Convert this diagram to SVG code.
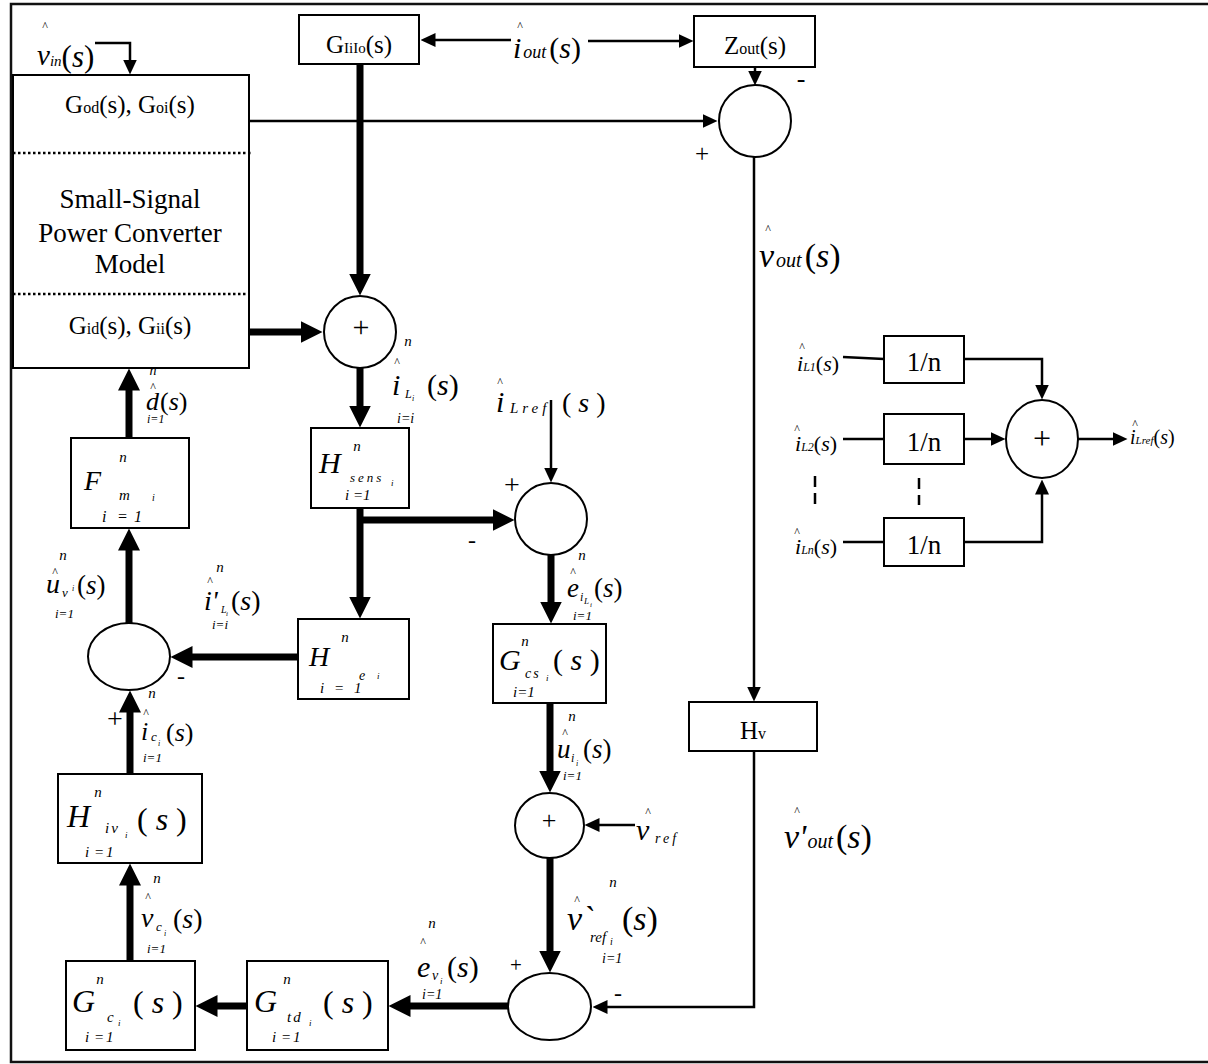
<svg xmlns="http://www.w3.org/2000/svg" width="1208" height="1064" viewBox="0 0 1208 1064">
<defs>
<style>
.box{fill:#fff;stroke:#000;stroke-width:2}
.thin{fill:none;stroke:#000;stroke-width:2.5}
.thick{fill:none;stroke:#000;stroke-width:7}
.dot{fill:none;stroke:#000;stroke-width:2.5;stroke-dasharray:2.5 2.5}
text{font-family:"Liberation Serif","Times New Roman",serif;fill:#000}
.m{font-style:italic}
.u{font-style:normal}
.c{text-anchor:middle}
.hat{font-size:12px;text-anchor:middle}
</style>
<marker id="ah" viewBox="0 0 22 22" refX="0.5" refY="11" markerWidth="22" markerHeight="22" markerUnits="userSpaceOnUse" orient="auto"><path d="M0,0 L22,11 L0,22 Z"/></marker>
<marker id="as" viewBox="0 0 15 14" refX="0.5" refY="7" markerWidth="15" markerHeight="14" markerUnits="userSpaceOnUse" orient="auto"><path d="M0,0 L15,7 L0,14 Z"/></marker>
</defs>
<rect width="1208" height="1064" fill="#fff"/>
<path d="M1210,4 H11 V1062 H1210" fill="none" stroke="#111" stroke-width="2.5"/>

<g id="connectors">
<path class="thick" marker-end="url(#ah)" d="M360,64 V274"/>
<path class="thick" marker-end="url(#ah)" d="M250,332 H301"/>
<path class="thick" marker-end="url(#ah)" d="M360,368 V406"/>
<path class="thick" marker-end="url(#ah)" d="M360,508 V597"/>
<path class="thick" marker-end="url(#ah)" d="M357,520 H493"/>
<path class="thick" marker-end="url(#ah)" d="M298,657 H192"/>
<path class="thick" marker-end="url(#ah)" d="M129,623 V550"/>
<path class="thick" marker-end="url(#ah)" d="M129,438 V390"/>
<path class="thick" marker-end="url(#ah)" d="M551,555 V602"/>
<path class="thick" marker-end="url(#ah)" d="M550,703 V771"/>
<path class="thick" marker-end="url(#ah)" d="M550,858 V951"/>
<path class="thick" marker-end="url(#ah)" d="M508,1006 H410"/>
<path class="thick" marker-end="url(#ah)" d="M247,1006 H217"/>
<path class="thick" marker-end="url(#ah)" d="M130,961 V885"/>
<path class="thick" marker-end="url(#ah)" d="M130,774 V712"/>
<path class="thin" marker-end="url(#as)" d="M95,43 H130 V60"/>
<path class="thin" marker-end="url(#as)" d="M511,40 H435"/>
<path class="thin" marker-end="url(#as)" d="M588,41 H679"/>
<path class="thin" marker-end="url(#as)" d="M755,67 V71"/>
<path class="thin" marker-end="url(#as)" d="M250,121 H703"/>
<path class="thin" marker-end="url(#as)" d="M754,157 V687"/>
<path class="thin" marker-end="url(#as)" d="M754,751 V1007 H607"/>
<path class="thin" marker-end="url(#as)" d="M551,400 V468"/>
<path class="thin" marker-end="url(#as)" d="M635,825 H599"/>
<path class="thin" d="M843,357 L884,359"/>
<path class="thin" d="M843,439 H884"/>
<path class="thin" d="M843,542 H884"/>
<path class="thin" marker-end="url(#as)" d="M964,359 H1042 V385"/>
<path class="thin" marker-end="url(#as)" d="M964,439 H991"/>
<path class="thin" marker-end="url(#as)" d="M964,542 H1042 V494"/>
<path class="thin" marker-end="url(#as)" d="M1078,439 H1113"/>
<path class="thin" stroke-dasharray="11 6" d="M815,476 V505"/>
<path class="thin" stroke-dasharray="11 6" d="M919,478 V505"/>
</g>

<g id="converter">
<rect class="box" x="13" y="75" width="236" height="293"/>
<path class="dot" d="M13,153 H253"/>
<path class="dot" d="M13,294 H248"/>
<text class="c" x="130" y="113" font-size="25">G<tspan font-size="16">od</tspan>(s), G<tspan font-size="16">oi</tspan>(s)</text>
<text class="c" x="130" y="208" font-size="27">Small-Signal</text>
<text class="c" x="130" y="242" font-size="27">Power Converter</text>
<text class="c" x="130" y="273" font-size="27">Model</text>
<text class="c" x="130" y="334" font-size="25">G<tspan font-size="16">id</tspan>(s), G<tspan font-size="16">ii</tspan>(s)</text>
</g>

<g id="giiio">
<rect class="box" x="299" y="15" width="120" height="49"/>
<text class="c" x="359" y="53" font-size="25">G<tspan font-size="15">IiIo</tspan>(s)</text>
</g>

<g id="zout">
<rect class="box" x="694" y="16" width="121" height="51"/>
<text class="c" x="755" y="54" font-size="25">Z<tspan font-size="16">out</tspan>(s)</text>
</g>

<g id="sum1">
<circle class="box" cx="360" cy="332" r="36"/>
<text class="c" x="361" y="337" font-size="30">+</text>
</g>

<g id="sum2">
<circle class="box" cx="755" cy="121" r="36"/>
<text class="c" x="801" y="87" font-size="26">-</text>
<text class="c" x="702" y="162" font-size="25">+</text>
</g>

<g id="hsens">
<rect class="box" x="311" y="428" width="98" height="80"/>
<text class="m c" x="357" y="451" font-size="15">n</text>
<text class="m" x="319" y="473" font-size="30">H</text>
<text class="m" x="350" y="482" font-size="13" letter-spacing="3">sens</text>
<text class="m" x="391" y="486" font-size="9">i</text>
<text class="m" x="345 353 363" y="500" font-size="15">i=1</text>
</g>

<g id="sum3">
<circle class="box" cx="551" cy="519" r="36"/>
<text class="c" x="512" y="494" font-size="28">+</text>
<text class="c" x="472" y="548" font-size="24">-</text>
</g>

<g id="he">
<rect class="box" x="298" y="619" width="111" height="80"/>
<text class="m c" x="345" y="642" font-size="15">n</text>
<text class="m" x="309" y="666" font-size="28">H</text>
<text class="m" x="359" y="680" font-size="14">e</text>
<text class="m" x="377" y="679" font-size="9">i</text>
<text class="m" x="320 334 354" y="693" font-size="15">i=1</text>
</g>

<g id="gcs">
<rect class="box" x="493" y="624" width="113" height="79"/>
<text class="m c" x="525" y="646" font-size="15">n</text>
<text class="m" x="499" y="670" font-size="30">G</text>
<text class="m" x="525" y="678" font-size="14" letter-spacing="2">cs</text>
<text class="m" x="546" y="681" font-size="9">i</text>
<text x="553" y="670" font-size="30">( <tspan class="m">s</tspan> )</text>
<text class="m" x="513" y="697" font-size="15">i=1</text>
</g>

<g id="sum4">
<ellipse class="box" cx="549.5" cy="825.5" rx="34.5" ry="32.5"/>
<text class="c" x="549" y="829" font-size="26">+</text>
</g>

<g id="sum5">
<ellipse class="box" cx="549.5" cy="1006.5" rx="41.5" ry="33.5"/>
<text class="c" x="516" y="972" font-size="21">+</text>
<text class="c" x="618" y="1001" font-size="24">-</text>
</g>

<g id="hv">
<rect class="box" x="689" y="702" width="128" height="49"/>
<text class="c" x="753" y="739" font-size="25">H<tspan font-size="16">v</tspan></text>
</g>

<g id="gtd">
<rect class="box" x="247" y="961" width="141" height="89"/>
<text class="m c" x="287" y="984" font-size="15">n</text>
<text class="m" x="254" y="1012" font-size="32">G</text>
<text class="m" x="287" y="1022" font-size="15" letter-spacing="2">td</text>
<text class="m" x="309" y="1026" font-size="9">i</text>
<text x="323" y="1013" font-size="32">( <tspan class="m">s</tspan> )</text>
<text class="m" x="272 281 293" y="1042" font-size="15">i=1</text>
</g>

<g id="gc">
<rect class="box" x="66" y="961" width="129" height="89"/>
<text class="m c" x="100" y="984" font-size="15">n</text>
<text class="m" x="72" y="1012" font-size="32">G</text>
<text class="m" x="107" y="1022" font-size="15">c</text>
<text class="m" x="118" y="1026" font-size="9">i</text>
<text x="133" y="1013" font-size="32">( <tspan class="m">s</tspan> )</text>
<text class="m" x="85 94 106" y="1042" font-size="15">i=1</text>
</g>

<g id="hiv">
<rect class="box" x="58" y="774" width="144" height="89"/>
<text class="m c" x="98" y="797" font-size="15">n</text>
<text class="m" x="67" y="827" font-size="32">H</text>
<text class="m" x="105" y="833" font-size="15" letter-spacing="2">iv</text>
<text class="m" x="125" y="838" font-size="9">i</text>
<text x="137" y="830" font-size="32">( <tspan class="m">s</tspan> )</text>
<text class="m" x="85 94 106" y="857" font-size="15">i=1</text>
</g>

<g id="sum6">
<ellipse class="box" cx="129" cy="656.5" rx="41" ry="33.5"/>
<text class="c" x="181" y="684" font-size="24">-</text>
<text class="c" x="115" y="728" font-size="28">+</text>
</g>

<g id="fm">
<rect class="box" x="71" y="438" width="118" height="90"/>
<text class="m c" x="123" y="462" font-size="15">n</text>
<text class="m" x="84" y="490" font-size="28">F</text>
<text class="m" x="119" y="500" font-size="15">m</text>
<text class="m" x="152" y="501" font-size="10">i</text>
<text class="m" x="102 117 134" y="522" font-size="16">i=1</text>
</g>

<g id="avg">
<rect class="box" x="884" y="336" width="80" height="47"/>
<text class="c" x="924" y="371" font-size="27">1/n</text>
<rect class="box" x="884" y="414" width="80" height="50"/>
<text class="c" x="924" y="451" font-size="27">1/n</text>
<rect class="box" x="884" y="518" width="80" height="48"/>
<text class="c" x="924" y="554" font-size="27">1/n</text>
<ellipse class="box" cx="1042" cy="439" rx="36" ry="39"/>
<text class="c" x="1042" y="449" font-size="32">+</text>
</g>

<g id="labels">
<!-- vin -->
<text class="hat" x="45" y="30">^</text>
<text class="m" x="37" y="65" font-size="29">v<tspan font-size="15" dy="1">in</tspan><tspan class="u" font-size="31" dy="1">(</tspan><tspan font-size="31">s</tspan><tspan class="u" font-size="31">)</tspan></text>
<!-- iout -->
<text class="hat" x="520" y="30">^</text>
<text class="m" x="513" y="58" font-size="30">i<tspan font-size="18" dx="2">out</tspan><tspan class="u" dx="3">(</tspan>s<tspan class="u">)</tspan></text>
<!-- vout -->
<text class="hat" x="768" y="233">^</text>
<text class="m" x="759" y="267" font-size="34">v<tspan font-size="20" dx="2">out</tspan><tspan class="u" dx="3">(</tspan>s<tspan class="u">)</tspan></text>
<!-- v'out -->
<text class="hat" x="797" y="815">^</text>
<text class="m" x="784" y="848" font-size="34">v'<tspan font-size="20" dx="1">out</tspan><tspan class="u" dx="3">(</tspan>s<tspan class="u">)</tspan></text>
<!-- iL -->
<text class="m c" x="408" y="346" font-size="15">n</text>
<text class="hat" x="397" y="366">^</text>
<text class="m" x="392" y="395" font-size="30">i</text>
<text class="m" x="405" y="398" font-size="12">L</text>
<text class="m" x="412" y="401" font-size="8">i</text>
<text x="427" y="395" font-size="30">(<tspan class="m">s</tspan>)</text>
<text class="m" x="397" y="423" font-size="14">i=i</text>
<!-- iLref -->
<text class="hat" x="500" y="386">^</text>
<text class="m" x="496" y="412" font-size="30">i</text>
<text class="m" x="510" y="413" font-size="15" letter-spacing="4">Lref</text>
<text x="562" y="412" font-size="28">( <tspan class="m">s</tspan> )</text>
<!-- eiL -->
<text class="m c" x="582" y="560" font-size="15">n</text>
<text class="hat" x="573" y="576">^</text>
<text class="m" x="567" y="597" font-size="27">e</text>
<text class="m" x="580" y="601" font-size="12">i</text>
<text class="m" x="584" y="604" font-size="9">L</text>
<text class="m" x="590" y="607" font-size="7">i</text>
<text x="594" y="597" font-size="27">(<tspan class="m">s</tspan>)</text>
<text class="m" x="573" y="620" font-size="13">i=1</text>
<!-- ui -->
<text class="m c" x="572" y="721" font-size="15">n</text>
<text class="hat" x="565" y="737">^</text>
<text class="m" x="557" y="758" font-size="27">u</text>
<text class="m" x="571" y="762" font-size="12">i</text>
<text class="m" x="576" y="766" font-size="8">i</text>
<text x="583" y="758" font-size="27">(<tspan class="m">s</tspan>)</text>
<text class="m" x="563" y="780" font-size="13">i=1</text>
<!-- vref -->
<text class="hat" x="648" y="816">^</text>
<text class="m" x="636" y="840" font-size="30">v</text>
<text class="m" x="655" y="843" font-size="14" letter-spacing="3">ref</text>
<!-- v`ref -->
<text class="m c" x="613" y="887" font-size="15">n</text>
<text class="hat" x="577" y="904">^</text>
<text class="m" x="567" y="930" font-size="34">v`</text>
<text class="m" x="590" y="942" font-size="15">ref</text>
<text class="m" x="610" y="945" font-size="10">i</text>
<text x="622" y="930" font-size="34">(<tspan class="m">s</tspan>)</text>
<text class="m" x="602" y="963" font-size="14">i=1</text>
<!-- ev -->
<text class="m c" x="432" y="928" font-size="15">n</text>
<text class="hat" x="423" y="946">^</text>
<text class="m" x="417" y="977" font-size="30">e</text>
<text class="m" x="432" y="980" font-size="14">v</text>
<text class="m" x="440" y="984" font-size="9">i</text>
<text x="447" y="977" font-size="30">(<tspan class="m">s</tspan>)</text>
<text class="m" x="422" y="999" font-size="14">i=1</text>
<!-- vc -->
<text class="m c" x="157" y="883" font-size="15">n</text>
<text class="hat" x="148" y="901">^</text>
<text class="m" x="141" y="927" font-size="28">v</text>
<text class="m" x="156" y="931" font-size="13">c</text>
<text class="m" x="164" y="936" font-size="8">i</text>
<text x="173" y="928" font-size="28">(<tspan class="m">s</tspan>)</text>
<text class="m" x="147" y="953" font-size="13">i=1</text>
<!-- ic -->
<text class="m c" x="152" y="698" font-size="15">n</text>
<text class="hat" x="146" y="717">^</text>
<text class="m" x="141" y="740" font-size="26">i</text>
<text class="m" x="151" y="741" font-size="13">c</text>
<text class="m" x="158" y="746" font-size="8">i</text>
<text x="166" y="741" font-size="26">(<tspan class="m">s</tspan>)</text>
<text class="m" x="143" y="762" font-size="13">i=1</text>
<!-- i'L -->
<text class="m c" x="220" y="572" font-size="15">n</text>
<text class="hat" x="210" y="585">^</text>
<text class="m" x="204" y="610" font-size="28">i'</text>
<text class="m" x="221" y="613" font-size="10">L</text>
<text class="m" x="226" y="616" font-size="7">i</text>
<text x="231" y="610" font-size="28">(<tspan class="m">s</tspan>)</text>
<text class="m" x="212" y="629" font-size="13">i=i</text>
<!-- uv -->
<text class="m c" x="63" y="560" font-size="15">n</text>
<text class="hat" x="55" y="576">^</text>
<text class="m" x="46" y="593" font-size="28">u</text>
<text class="m" x="62" y="597" font-size="13">v</text>
<text class="m" x="72" y="591" font-size="8">i</text>
<text x="77" y="594" font-size="27">(<tspan class="m">s</tspan>)</text>
<text class="m" x="55" y="618" font-size="13">i=1</text>
<!-- d -->
<text class="m c" x="153" y="375" font-size="14">n</text>
<text class="hat" x="153" y="391">^</text>
<text class="m" x="146" y="410" font-size="26">d</text>
<text x="160" y="410" font-size="26">(<tspan class="m">s</tspan>)</text>
<text class="m" x="147" y="423" font-size="12">i=1</text>
<!-- right inputs -->
<text class="hat" x="802" y="351">^</text>
<text class="m" x="797" y="371" font-size="22">i<tspan font-size="12">L1</tspan><tspan class="u">(</tspan>s<tspan class="u">)</tspan></text>
<text class="hat" x="797" y="433">^</text>
<text class="m" x="795" y="451" font-size="22">i<tspan font-size="12">L2</tspan><tspan class="u">(</tspan>s<tspan class="u">)</tspan></text>
<text class="hat" x="797" y="536">^</text>
<text class="m" x="795" y="554" font-size="22">i<tspan font-size="12">Ln</tspan><tspan class="u">(</tspan>s<tspan class="u">)</tspan></text>
<text class="hat" x="1135" y="428">^</text>
<text class="m" x="1130" y="444" font-size="20">i<tspan font-size="11">Lref</tspan><tspan class="u">(</tspan>s<tspan class="u">)</tspan></text>
</g>
</svg>
